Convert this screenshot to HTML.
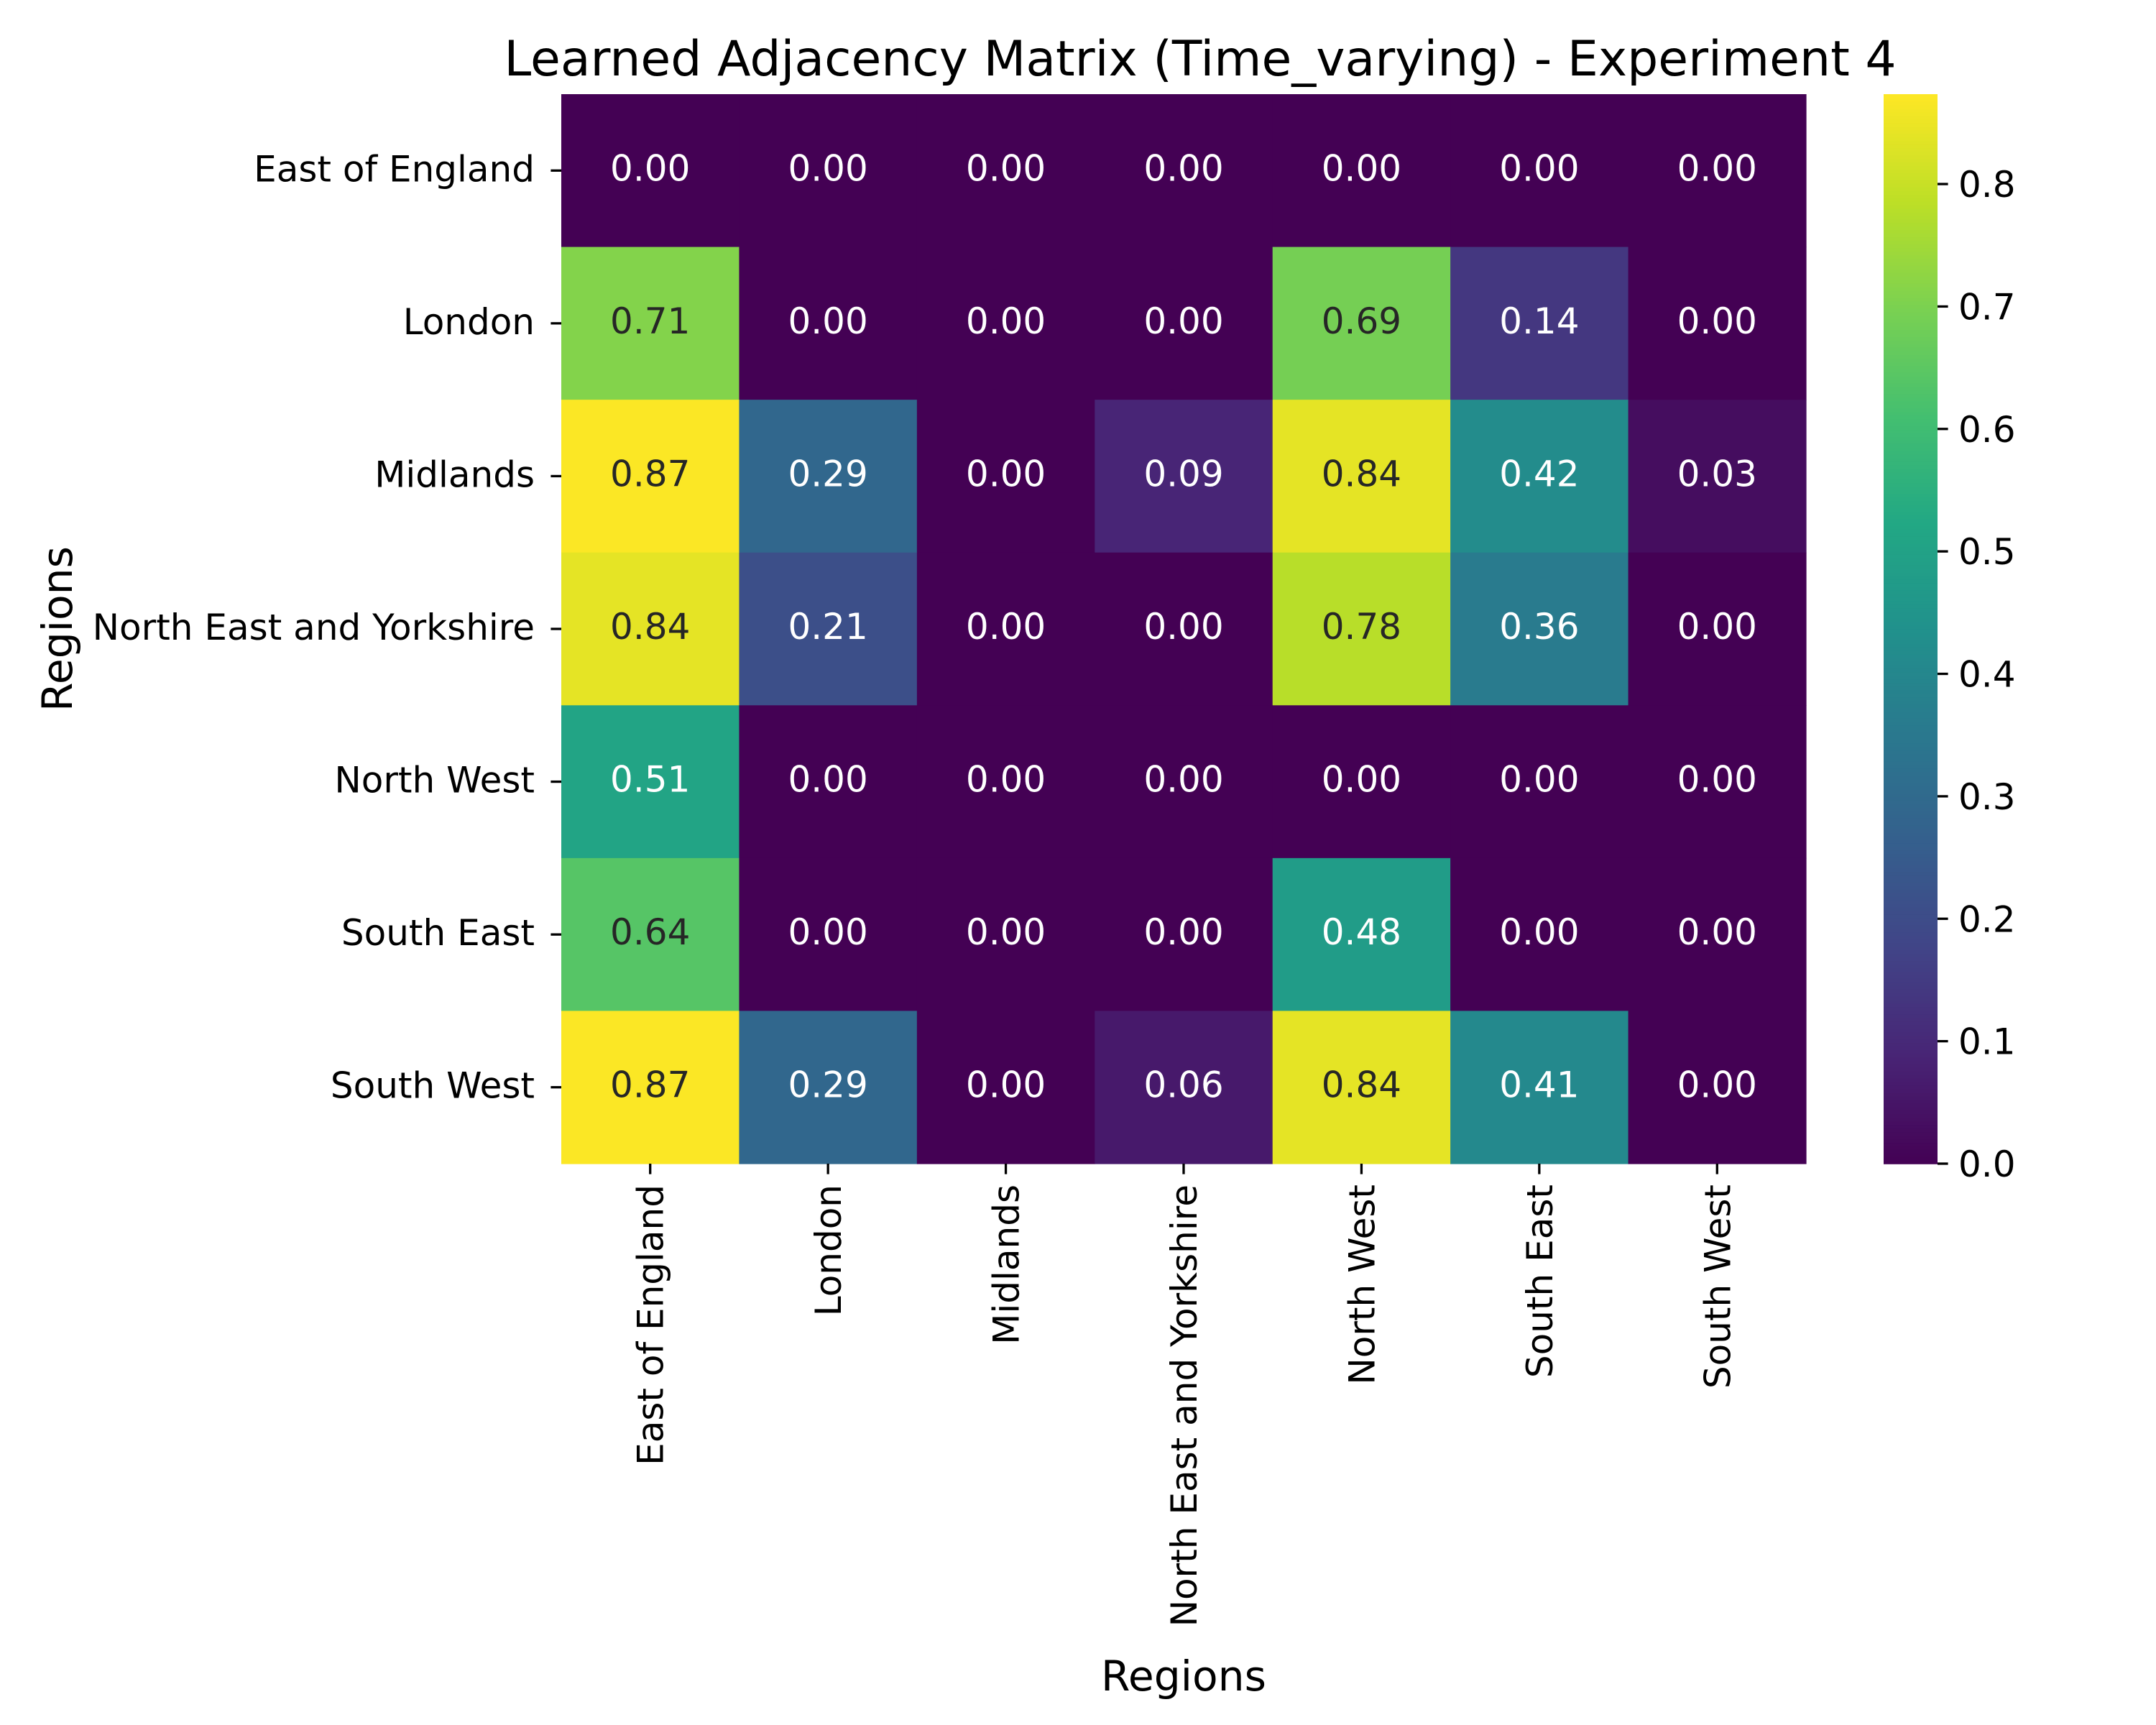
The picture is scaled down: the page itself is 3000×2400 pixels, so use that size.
<!DOCTYPE html>
<html><head><meta charset="utf-8">
<style>
html,body{margin:0;padding:0;background:#fff;}
svg{display:block;}
text{font-family:"DejaVu Sans","Liberation Sans",sans-serif;}
</style></head>
<body>
<svg id="chart" width="3000" height="2400" viewBox="0 0 3000 2400" xmlns="http://www.w3.org/2000/svg">
<rect width="3000" height="2400" fill="#fff"/>
<text x="1670" y="105" font-size="68" text-anchor="middle">Learned Adjacency Matrix (Time_varying) - Experiment 4</text>
<text x="1647" y="2352" font-size="58.3" text-anchor="middle">Regions</text>
<text x="0" y="0" font-size="58.3" text-anchor="middle" transform="translate(100,875) rotate(-90)">Regions</text>
<g id="cells"></g>
<g id="xticks"></g>
<g id="yticks"></g>
<g id="cbar"></g>
</svg>
<script>
const rowLabels = ["East of England","London","Midlands","North East and Yorkshire","North West","South East","South West"];
const colLabels = ["East of England","London","Midlands","North East and Yorkshire","North West","South East","South West"];
const rowEastOfEngland = [0,0,0,0,0,0,0];
const rowLondon = [0.71,0,0,0,0.69,0.14,0];
const rowMidlands = [0.87,0.29,0,0.09,0.84,0.42,0.03];
const rowNorthEastYorkshire = [0.84,0.21,0,0,0.78,0.36,0];
const rowNorthWest = [0.51,0,0,0,0,0,0];
const rowSouthEast = [0.64,0,0,0,0.48,0,0];
const rowSouthWest = [0.87,0.29,0,0.06,0.84,0.41,0];
const colorbarTicks = [0.0,0.1,0.2,0.3,0.4,0.5,0.6,0.7,0.8];
const vmin = 0, vmax = 0.8734;

const matrix = [rowEastOfEngland,rowLondon,rowMidlands,rowNorthEastYorkshire,rowNorthWest,rowSouthEast,rowSouthWest];
const NS="http://www.w3.org/2000/svg";
const L=781,R=2513,T=131,B=1619;
const cw=(R-L)/colLabels.length, rh=(B-T)/rowLabels.length;
const xPos=i=>L+i*cw, yPos=j=>T+j*rh;
const stops=["#440154","#482475","#414487","#355f8d","#2a788e","#21918c","#22a884","#44bf70","#7ad151","#bddf26","#fde725"].map(h=>[1,3,5].map(k=>parseInt(h.substr(k,2),16)));
function cmapRGB(v){let t=Math.max(0,Math.min(1,(v-vmin)/(vmax-vmin)))*10;let i=Math.min(9,Math.floor(t));let f=t-i;return stops[i].map((c,k)=>c+(stops[i+1][k]-c)*f);}
function rgbStr(c){return "rgb("+c.map(Math.round).join(",")+")";}
function lum(c){const l=c.map(x=>{x/=255;return x<=0.03928?x/12.92:Math.pow((x+0.055)/1.055,2.4);});return 0.2126*l[0]+0.7152*l[1]+0.0722*l[2];}
function mk(tag,attrs,parent){const e=document.createElementNS(NS,tag);for(const k in attrs)e.setAttribute(k,attrs[k]);parent.appendChild(e);return e;}

const cells=document.getElementById('cells');
matrix.forEach((row,j)=>row.forEach((v,i)=>{
  const c=cmapRGB(v);
  const r=mk('rect',{x:xPos(i),y:yPos(j),width:cw+0.6,height:rh+0.6,fill:rgbStr(c)},cells);
  
  
  const t=mk('text',{x:xPos(i)+cw/2,y:yPos(j)+rh/2+14,'font-size':50,'text-anchor':'middle',fill:lum(c)>0.408?'#262626':'#ffffff'},cells);
  
  
  t.textContent=v.toFixed(2);
}));

const xt=document.getElementById('xticks');
colLabels.forEach((lab,i)=>{
  const x=xPos(i)+cw/2;
  mk('line',{x1:x,y1:B,x2:x,y2:B+14.6,stroke:'#000','stroke-width':3.3},xt);
  const t=mk('text',{x:0,y:0,'font-size':50,'text-anchor':'end',transform:`translate(${x+18},${B+29}) rotate(-90)`},xt);
  
  
  t.textContent=lab;
});
const yt=document.getElementById('yticks');
rowLabels.forEach((lab,j)=>{
  const y=yPos(j)+rh/2;
  mk('line',{x1:L,y1:y,x2:L-14.6,y2:y,stroke:'#000','stroke-width':3.3},yt);
  const t=mk('text',{x:L-37,y:y+15,'font-size':50,'text-anchor':'end'},yt);
  
  
  t.textContent=lab;
});

const cb=document.getElementById('cbar');
const CL=2621,CR=2696;
const cy=v=>B-(v-vmin)/(vmax-vmin)*(B-T);
const N=300;
for(let k=0;k<N;k++){
  const v0=vmin+(vmax-vmin)*k/N, v1=vmin+(vmax-vmin)*(k+1)/N;
  mk('rect',{x:CL,y:cy(v1),width:CR-CL,height:cy(v0)-cy(v1)+0.8,fill:rgbStr(cmapRGB((v0+v1)/2))},cb);
}
colorbarTicks.forEach(v=>{
  const y=cy(v);
  mk('line',{x1:CR,y1:y,x2:CR+14.6,y2:y,stroke:'#000','stroke-width':3.3},cb);
  const t=mk('text',{x:CR+29,y:y+18,'font-size':50},cb);
  
  
  t.textContent=v.toFixed(1);
});
</script>
</body></html>
